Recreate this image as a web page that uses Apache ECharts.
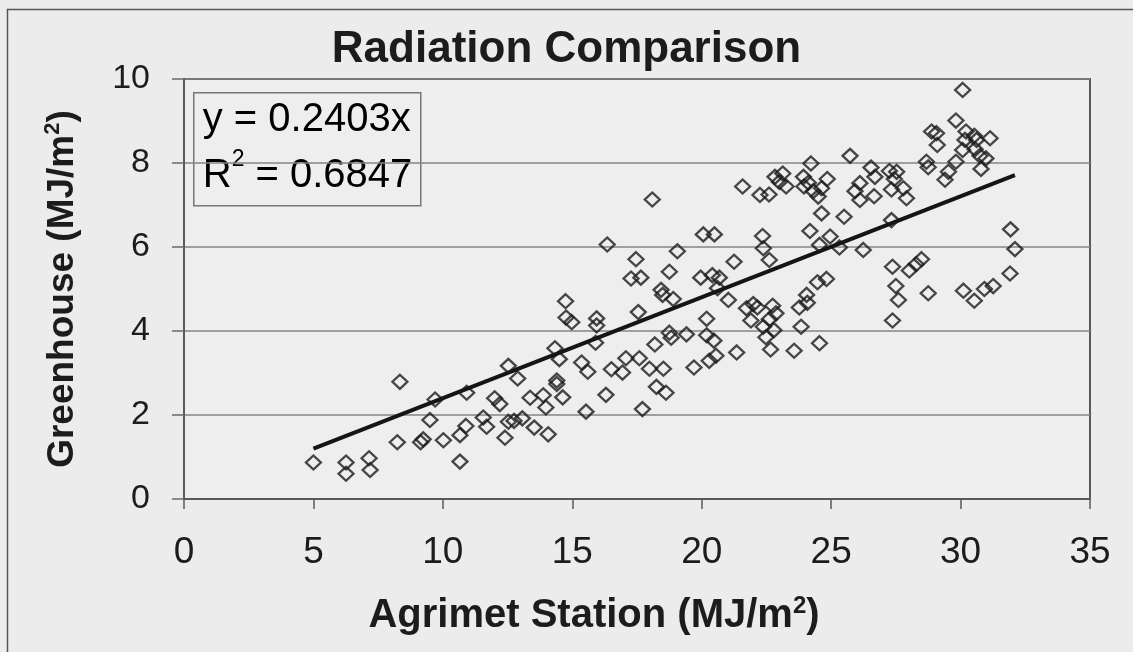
<!DOCTYPE html>
<html>
<head>
<meta charset="utf-8">
<title>Radiation Comparison</title>
<script src="https://cdn.jsdelivr.net/npm/echarts@6/dist/echarts.min.js"></script>
<style>
  html, body { margin: 0; padding: 0; background: #ececec; }
  #chart { width: 1133px; height: 652px; }
</style>
</head>
<body>
<div id="chart"></div>
<script>
// Daily solar radiation: Agrimet weather station (x) vs. greenhouse sensor (y), MJ/m2
const agrimet = [
  5.00, 6.26, 6.26, 7.15, 7.19, 8.34, 8.24, 9.14, 9.24, 9.50, 9.70, 10.02, 10.66, 10.66, 10.89, 10.92,
  11.56, 11.69, 12.00, 12.20, 12.40, 12.53, 12.53, 12.75, 12.89, 13.07, 13.37, 13.53, 13.88, 13.98,
  14.07, 14.33, 14.50, 14.40, 14.40, 14.63, 15.36, 15.60, 15.53,
  18.09, 20.06, 20.49, 16.35, 19.06, 17.46, 21.25, 18.75, 17.27, 17.65, 19.96, 20.41, 20.68, 20.61,
  18.43, 18.49, 18.90, 21.03, 14.74, 14.76, 14.98, 15.94, 15.94, 17.55, 20.19, 18.75, 18.82, 19.41,
  20.19, 20.47, 21.35, 18.19, 15.90, 16.51, 16.94, 17.07, 17.59, 17.98, 18.52, 19.70, 20.29, 20.55,
  18.25, 18.62, 16.30, 17.71,
  21.58, 22.25, 22.60,
  25.73, 24.22, 22.83, 23.13, 23.00, 23.26, 23.93, 23.95, 24.12, 24.31, 24.50, 24.63, 24.85, 24.63,
  25.50, 26.54, 26.69, 26.11, 25.92, 26.11, 26.66, 27.25, 27.33, 27.44, 27.33, 24.18, 24.96, 24.55,
  25.32, 26.24, 22.35, 22.38, 22.61, 27.37, 27.50, 27.60, 27.37, 24.47, 24.82, 24.05, 24.08, 23.77,
  23.84, 24.55, 23.57, 21.73, 21.99, 22.15, 21.90, 22.74, 22.87, 22.61, 22.38, 22.79, 22.48, 22.66,
  30.08, 29.82, 28.88, 29.07, 29.10, 30.21, 30.53, 30.62, 31.14, 30.17, 30.08, 30.56, 30.75, 30.98,
  30.79, 29.82, 29.53, 29.40, 28.68, 28.75, 27.53, 27.79, 27.91, 31.93, 32.10, 31.91, 28.02, 28.28,
  28.49, 28.75, 30.11, 30.53, 30.92, 31.26
];
const greenhouse = [
  0.87, 0.87, 0.60, 0.97, 0.69, 2.79, 1.35, 1.35, 1.42, 1.88, 2.37, 1.40, 1.52, 0.89, 1.74, 2.53,
  1.94, 1.72, 2.40, 2.26, 1.46, 1.84, 3.17, 1.86, 2.87, 1.92, 2.41, 1.70, 2.47, 2.18,
  1.54, 3.59, 3.33, 2.82, 2.74, 2.42, 3.25, 3.03, 2.08,
  7.13, 6.30, 6.30, 6.06, 5.90, 5.71, 5.65, 5.41, 5.25, 5.27, 5.27, 5.33, 5.27, 5.02,
  4.98, 4.86, 4.76, 4.74, 4.71, 4.32, 4.21, 4.30, 4.13, 4.45, 4.29, 3.96, 3.84, 3.92,
  3.90, 3.77, 3.49, 3.68, 3.72, 3.09, 3.01, 3.35, 3.35, 3.10, 3.10, 3.13, 3.29, 3.41,
  2.67, 2.53, 2.48, 2.14,
  7.44, 7.24, 7.25,
  8.17, 7.99, 7.67, 7.75, 7.55, 7.44, 7.67, 7.44, 7.53, 7.33, 7.20, 7.40, 7.62, 6.80,
  6.72, 7.89, 7.67, 7.52, 7.33, 7.12, 7.21, 7.81, 7.37, 7.62, 6.64, 6.38, 6.25, 6.05,
  5.99, 5.93, 6.26, 5.97, 5.69, 5.53, 5.07, 4.74, 4.25, 5.16, 5.24, 4.86, 4.67, 4.56,
  4.10, 3.71, 3.53, 4.54, 4.64, 4.56, 4.25, 4.60, 4.42, 4.28, 4.10, 4.02, 3.85, 3.56,
  9.74, 9.01, 8.75, 8.71, 8.43, 8.75, 8.65, 8.55, 8.59, 8.55, 8.31, 8.33, 8.17, 8.11,
  7.86, 8.03, 7.79, 7.60, 8.03, 7.90, 7.79, 7.40, 7.16, 6.42, 5.95, 5.37, 5.44, 5.59,
  5.71, 4.90, 4.96, 4.72, 5.00, 5.07
];

// Linear trend forced through the origin, and its fit statistic
const slope = 0.2403;
const rSquared = 0.6847;

const xTicks = { min: 0, max: 35, step: 5 };
const yTicks = { min: 0, max: 10, step: 2 };

const FONT = '"Liberation Sans", Arial, Helvetica, sans-serif';
const INK = '#1c1c1c';

const points = agrimet.map((x, i) => [x, greenhouse[i]]);
const xLo = Math.min(...agrimet);
const xHi = Math.max(...agrimet);
const trend = [[xLo, slope * xLo], [xHi, slope * xHi]];

function nameRich(size, supSize) {
  return {
    b: { fontFamily: FONT, fontSize: size, fontWeight: 'bold', color: INK, lineHeight: size + 4 },
    s: { fontFamily: FONT, fontSize: supSize, fontWeight: 'bold', color: INK, lineHeight: supSize + 2, verticalAlign: 'top' }
  };
}

const chart = echarts.init(document.getElementById('chart'), null, { renderer: 'canvas' });

chart.setOption({
  backgroundColor: '#ececec',
  animation: false,
  textStyle: { fontFamily: FONT, color: INK },
  title: {
    text: 'Radiation Comparison',
    left: 'center',
    top: 28,
    padding: 0,
    textStyle: { fontFamily: FONT, fontSize: 44, fontWeight: 'bold', color: INK }
  },
  grid: {
    left: 184, top: 79, right: 43, bottom: 153,
    show: true,
    backgroundColor: '#eeeeee',
    borderColor: '#5a5a5a',
    borderWidth: 2
  },
  xAxis: {
    type: 'value',
    min: xTicks.min, max: xTicks.max, interval: xTicks.step,
    name: '{b|Agrimet Station (MJ/m}{s|2}{b|)}',
    nameLocation: 'middle',
    nameGap: 95,
    nameTextStyle: { padding: [0, 86, 0, 0], rich: nameRich(40, 24) },
    axisLine: { show: true, onZero: false, lineStyle: { color: '#5a5a5a', width: 2 } },
    axisTick: { show: true, inside: false, length: 10, lineStyle: { color: '#5a5a5a', width: 1.5 } },
    axisLabel: { fontFamily: FONT, fontSize: 37, color: INK, margin: 35 },
    splitLine: { show: false }
  },
  yAxis: {
    type: 'value',
    min: yTicks.min, max: yTicks.max, interval: yTicks.step,
    name: '{b|Greenhouse (MJ/m}{s|2}{b|)}',
    nameLocation: 'middle',
    nameRotate: 90,
    nameGap: 101,
    nameTextStyle: { rich: nameRich(37, 22) },
    axisLine: { show: true, onZero: false, lineStyle: { color: '#5a5a5a', width: 2 } },
    axisTick: { show: true, inside: false, length: 12, lineStyle: { color: '#6a6a6a', width: 1.5 } },
    axisLabel: { fontFamily: FONT, fontSize: 34, color: INK, margin: 34 },
    splitLine: { show: true, lineStyle: { color: '#858585', width: 1.5 } }
  },
  series: [
    {
      name: 'Daily radiation',
      type: 'scatter',
      data: points,
      symbol: 'diamond',
      symbolSize: [15, 14],
      itemStyle: { color: 'rgba(0,0,0,0)', borderColor: '#1a1a1a', borderWidth: 2.3 },
      z: 3
    },
    {
      name: 'Linear fit',
      type: 'line',
      data: trend,
      showSymbol: false,
      lineStyle: { color: '#151515', width: 4 },
      z: 4
    }
  ],
  graphic: [
    {
      // outer chart frame
      type: 'rect',
      silent: true,
      shape: { x: 7.5, y: 9.5, width: 1140, height: 660 },
      style: { fill: null, stroke: '#555555', lineWidth: 1.5 },
      z: 0
    },
    {
      // regression equation box
      type: 'group',
      left: 193,
      top: 92,
      z: 10,
      children: [
        {
          type: 'rect',
          shape: { x: 0, y: 0, width: 227, height: 113 },
          style: { fill: '#eeeeee', stroke: '#777777', lineWidth: 1.5 }
        },
        {
          type: 'text',
          x: 9,
          y: -1,
          style: {
            text: '{t|y = ' + slope.toFixed(4) + 'x}\n{t|R}{s|2}{t| = ' + rSquared.toFixed(4) + '}',
            rich: {
              t: { fontFamily: FONT, fontSize: 40, color: INK, lineHeight: 56 },
              s: { fontFamily: FONT, fontSize: 23, color: INK, lineHeight: 34, verticalAlign: 'top' }
            }
          }
        }
      ]
    }
  ]
});
</script>
</body>
</html>
